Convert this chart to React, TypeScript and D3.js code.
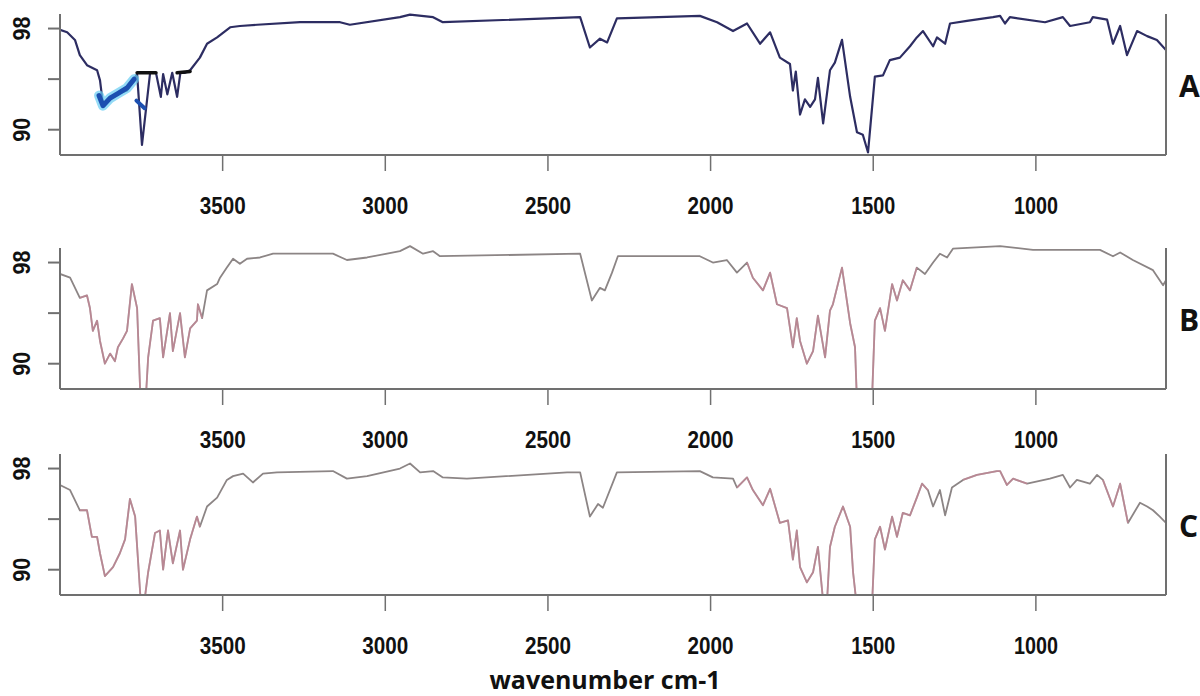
import React from 'react';
import * as d3 from 'd3';

// wavenumbers (cm-1) and % transmittance
const wnA = [4000, 3978, 3954, 3939, 3917, 3886, 3877, 3868, 3846, 3794, 3763, 3748, 3723, 3705, 3690, 3683, 3670, 3655, 3640, 3630, 3616, 3600, 3570, 3548, 3517, 3477, 3447, 3394, 3262, 3139, 3109, 2955, 2924, 2853, 2823, 2401, 2371, 2340, 2318, 2288, 2033, 1980, 1931, 1888, 1848, 1817, 1787, 1756, 1747, 1738, 1725, 1710, 1694, 1679, 1670, 1654, 1633, 1618, 1596, 1571, 1550, 1532, 1516, 1495, 1470, 1449, 1418, 1387, 1366, 1347, 1316, 1304, 1279, 1264, 1212, 1132, 1110, 1095, 1080, 972, 917, 895, 834, 825, 781, 763, 741, 720, 689, 658, 628, 600];
const valA = [97.9, 97.7, 97.1, 95.9, 95.1, 94.7, 93.9, 92.0, 92.6, 93.1, 94.4, 88.8, 94.5, 94.5, 92.6, 94.4, 92.8, 94.5, 92.6, 94.5, 94.5, 94.7, 95.7, 96.8, 97.3, 98.1, 98.2, 98.3, 98.5, 98.5, 98.3, 98.9, 99.1, 98.9, 98.5, 98.9, 96.5, 97.2, 96.9, 98.8, 99.0, 98.5, 97.8, 98.4, 96.8, 97.7, 95.7, 95.2, 93.1, 94.6, 91.2, 92.4, 91.8, 92.4, 94.1, 90.5, 94.7, 95.3, 97.1, 92.6, 89.8, 89.6, 88.2, 94.2, 94.3, 95.5, 95.7, 96.6, 97.3, 97.8, 96.6, 97.3, 96.8, 98.4, 98.6, 98.9, 99.0, 98.4, 98.9, 98.5, 98.9, 98.2, 98.5, 98.9, 98.7, 96.8, 98.2, 95.9, 97.8, 97.4, 97.1, 96.3];

// blue smudges over spectrum A
const blobWn = [3880, 3868, 3846, 3820, 3794, 3772];
const blobVal = [92.7, 91.9, 92.5, 92.9, 93.3, 94.0];
const dashWn = [3765, 3740];
const dashVal = [92.3, 91.7];
const flatWn = [3763, 3705, 3640, 3600];
const flatVal = [94.5, 94.5, 94.5, 94.6];

const wnB = [4000, 3969, 3939, 3917, 3908, 3899, 3886, 3877, 3862, 3846, 3831, 3822, 3806, 3794, 3779, 3763, 3748, 3739, 3729, 3714, 3693, 3683, 3662, 3653, 3631, 3616, 3600, 3579, 3576, 3563, 3548, 3517, 3508, 3487, 3468, 3447, 3425, 3385, 3345, 3161, 3118, 3056, 2955, 2924, 2884, 2853, 2832, 2401, 2365, 2340, 2325, 2303, 2285, 2033, 1993, 1950, 1919, 1888, 1870, 1839, 1817, 1796, 1765, 1747, 1735, 1725, 1704, 1685, 1670, 1648, 1633, 1624, 1596, 1571, 1556, 1550, 1525, 1504, 1495, 1479, 1464, 1442, 1427, 1409, 1387, 1366, 1341, 1316, 1295, 1273, 1255, 1110, 1009, 803, 763, 741, 702, 640, 609, 600];
const valB = [97.1, 96.8, 95.2, 95.4, 94.4, 92.6, 93.4, 91.8, 90.0, 90.8, 90.2, 91.3, 92.0, 92.6, 96.3, 94.4, 84.0, 86.0, 90.5, 93.4, 93.6, 90.5, 94.0, 91.0, 94.0, 90.5, 92.8, 93.4, 94.7, 93.6, 95.8, 96.3, 96.8, 97.6, 98.3, 97.9, 98.3, 98.4, 98.7, 98.7, 98.2, 98.4, 98.9, 99.3, 98.7, 98.9, 98.5, 98.7, 95.0, 96.0, 95.8, 97.2, 98.5, 98.5, 98.0, 98.2, 97.2, 98.0, 96.8, 95.8, 97.2, 94.7, 94.4, 91.3, 93.6, 91.8, 90.0, 91.0, 93.8, 90.5, 94.2, 94.7, 97.6, 93.2, 91.3, 87.0, 87.5, 87.0, 93.4, 94.4, 92.6, 96.3, 95.0, 96.6, 95.8, 97.6, 97.1, 98.0, 98.7, 98.4, 99.1, 99.3, 99.0, 99.0, 98.5, 98.8, 98.2, 97.4, 96.2, 96.6];

const wnC = [4000, 3969, 3939, 3917, 3902, 3886, 3877, 3862, 3837, 3816, 3800, 3785, 3769, 3748, 3729, 3708, 3693, 3683, 3668, 3653, 3631, 3622, 3600, 3579, 3570, 3548, 3517, 3487, 3468, 3437, 3407, 3376, 3333, 3161, 3118, 3056, 2955, 2924, 2893, 2853, 2823, 2749, 2441, 2401, 2371, 2346, 2331, 2288, 2033, 1993, 1931, 1919, 1888, 1870, 1839, 1817, 1787, 1762, 1747, 1735, 1725, 1704, 1685, 1670, 1654, 1642, 1633, 1618, 1593, 1571, 1562, 1550, 1504, 1495, 1479, 1464, 1442, 1427, 1409, 1387, 1366, 1350, 1332, 1316, 1295, 1279, 1258, 1224, 1181, 1120, 1110, 1089, 1070, 1027, 957, 917, 895, 874, 834, 812, 794, 763, 741, 717, 680, 658, 640, 619, 600];
const valC = [96.7, 96.3, 94.7, 94.7, 92.6, 92.6, 91.3, 89.5, 90.2, 91.3, 92.4, 95.6, 94.2, 86.0, 89.8, 92.9, 93.1, 90.0, 93.1, 90.5, 93.1, 90.0, 92.4, 94.2, 93.4, 95.0, 95.7, 97.1, 97.4, 97.6, 96.9, 97.6, 97.7, 97.8, 97.2, 97.4, 98.0, 98.4, 97.7, 97.8, 97.3, 97.2, 97.7, 97.7, 94.2, 95.2, 94.9, 97.7, 97.8, 97.3, 97.2, 96.5, 97.3, 96.3, 95.1, 96.4, 93.7, 93.9, 90.8, 93.1, 90.2, 89.0, 89.8, 91.8, 87.5, 87.5, 91.8, 93.4, 95.0, 93.4, 89.8, 87.0, 87.0, 92.4, 93.4, 91.6, 94.2, 92.6, 94.5, 94.3, 95.7, 96.8, 96.3, 95.0, 96.3, 94.3, 96.5, 97.1, 97.5, 97.8, 97.8, 96.7, 97.2, 96.8, 97.2, 97.5, 96.5, 97.1, 96.8, 97.5, 97.1, 95.0, 96.8, 93.7, 95.3, 95.0, 94.7, 94.2, 93.7];

// pink tinted stretches of B and C  [from, to] in cm-1
const pinkB = [[3950, 3560], [1900, 1360]];
const pinkC = [[3950, 3560], [1920, 1330], [1230, 1000], [800, 700]];

const xTicks = [3500, 3000, 2500, 2000, 1500, 1000];
const yTicks = [98, 94, 90];
const yLabels = [98, 90];
const panelNames = ['A', 'B', 'C'];

const W = 1200, H = 696;
const left = 60, right = 1166, panelH = 141;
const tops = [14, 248, 454];
const axisColor = '#707070';
const tickFont = '"Liberation Sans", Arial, sans-serif';

const x = d3.scaleLinear().domain([4000, 600]).range([left, right]);

interface PanelProps {
  idx: number;
  wn: number[];
  val: number[];
  color: string;
  pink?: number[][];
}

const Panel = ({ idx, wn, val, color, pink }: PanelProps) => {
  const top = tops[idx];
  const bottom = top + panelH;
  const y = d3.scaleLinear().domain([88.0, 99.15]).range([bottom, top]);
  const pts = wn.map((w, i) => [w, val[i]] as [number, number]);
  const line = d3.line<[number, number]>().x(d => x(d[0])).y(d => y(d[1]));
  const clipId = `clip-${idx}`;

  const seg = (a: number[], b: number[]) => line(a.map((w, i) => [w, b[i]] as [number, number])) || '';

  return (
    <g>
      <defs>
        <clipPath id={clipId}>
          <rect x={left} y={top - 6} width={right - left} height={panelH + 6} />
        </clipPath>
      </defs>
      <g clipPath={`url(#${clipId})`}>
        <path d={line(pts) || ''} fill="none" stroke={color} strokeWidth={idx === 0 ? 2.2 : 1.8} strokeLinejoin="round" />
        {pink && pink.map(([a, b], k) => {
          const sub = pts.filter(p => p[0] <= a && p[0] >= b);
          return <path key={k} d={line(sub) || ''} fill="none" stroke="#e48aa2" strokeOpacity={0.5} strokeWidth={1.8} strokeLinejoin="round" />;
        })}
        {idx === 0 && (
          <g fill="none" strokeLinecap="round" strokeLinejoin="round">
            <path d={seg(blobWn, blobVal)} stroke="#66ccf2" strokeWidth={10} strokeOpacity={0.7} />
            <path d={seg(blobWn, blobVal)} stroke="#1c4fb0" strokeWidth={5} />
            <path d={seg(dashWn, dashVal)} stroke="#1c4fb0" strokeWidth={4} />
            <path d={seg(flatWn.slice(0, 2), flatVal.slice(0, 2))} stroke="#111" strokeWidth={3.5} />
            <path d={seg(flatWn.slice(2), flatVal.slice(2))} stroke="#111" strokeWidth={3.5} />
          </g>
        )}
      </g>
      {/* axes */}
      <g stroke={axisColor} strokeWidth={2} fill="none">
        <line x1={left} x2={left} y1={top} y2={bottom} />
        <line x1={right} x2={right} y1={top} y2={bottom} />
        <line x1={left} x2={right} y1={bottom} y2={bottom} />
        {yTicks.map(t => <line key={t} x1={left - 12} x2={left} y1={y(t)} y2={y(t)} />)}
        {xTicks.map(t => <line key={t} x1={x(t)} x2={x(t)} y1={bottom} y2={bottom + 16} strokeWidth={1.5} />)}
      </g>
      <g fontFamily={tickFont} fontWeight="bold" fontSize={24} fill="#111">
        {xTicks.map(t => (
          <text key={t} x={x(t)} y={bottom + 59} textAnchor="middle" textLength={t >= 1000 && t < 2000 ? 44 : 46} lengthAdjust="spacingAndGlyphs">{t}</text>
        ))}
        {yLabels.map(t => (
          <text key={t} transform={`translate(30,${y(t)}) rotate(-90)`} textAnchor="middle" textLength={24} lengthAdjust="spacingAndGlyphs">{t}</text>
        ))}
      </g>
      <text x={1179} y={(top + bottom) / 2 + 12} fontFamily='"Open Sans", sans-serif' fontWeight="bold" fontSize={30} fill="#111">
        {panelNames[idx]}
      </text>
    </g>
  );
};

export default function App() {
  return (
    <svg width={W} height={H} style={{ position: 'absolute', left: 0, top: 0, background: '#fff' }}>
      <rect width={W} height={H} fill="#fff" />
      <Panel idx={0} wn={wnA} val={valA} color="#2d2d62" />
      <Panel idx={1} wn={wnB} val={valB} color="#8c8585" pink={pinkB} />
      <Panel idx={2} wn={wnC} val={valC} color="#8c8585" pink={pinkC} />
      <text x={605} y={689} textAnchor="middle" fontFamily='"Open Sans", sans-serif' fontWeight="bold" fontSize={25} fill="#111">
        wavenumber cm-1
      </text>
    </svg>
  );
}
